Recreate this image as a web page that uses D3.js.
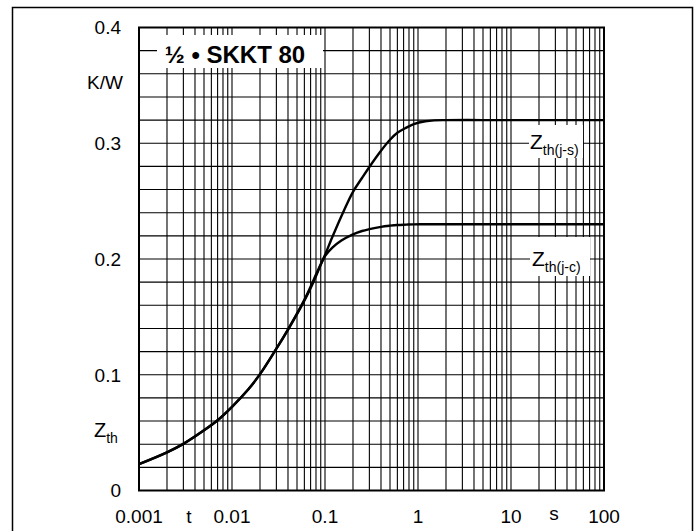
<!DOCTYPE html>
<html>
<head>
<meta charset="utf-8">
<script src="https://cdn.jsdelivr.net/npm/d3@7"></script>
<style>
  html, body { margin: 0; padding: 0; background: #fff; }
  svg { display: block; }
  text { font-family: "Liberation Sans", Arial, Helvetica, sans-serif; fill: #000; }
</style>
</head>
<body>
<svg id="chart" width="697" height="531"></svg>
<script>
// Transient thermal impedance Zth vs. time, half module SKKT 80
const timeS = [0.001, 0.002, 0.003, 0.005, 0.007, 0.01, 0.015, 0.02, 0.03, 0.04, 0.06,
               0.075, 0.09, 0.1, 0.12, 0.15, 0.2, 0.25, 0.3, 0.4, 0.5, 0.6, 0.75, 0.9,
               1.2, 1.5, 2, 5, 10, 100];
// junction to heatsink
const zthJS = [0.0228, 0.033, 0.0403, 0.052, 0.0607, 0.0723, 0.0875, 0.1005, 0.1225, 0.1388, 0.164,
               0.18, 0.195, 0.2035, 0.219, 0.237, 0.258, 0.27, 0.2795, 0.2935, 0.303, 0.309, 0.3135, 0.3165,
               0.319, 0.3198, 0.32, 0.32, 0.32, 0.32];
// junction to case
const zthJC = [0.0228, 0.033, 0.0403, 0.052, 0.0607, 0.0723, 0.0875, 0.1005, 0.1225, 0.1392, 0.1648,
               0.1815, 0.1955, 0.2025, 0.2098, 0.216, 0.2213, 0.2242, 0.2258, 0.2278, 0.2288, 0.2294, 0.2297, 0.2299,
               0.23, 0.23, 0.23, 0.23, 0.23, 0.23];

const xTickValues = [0.001, 0.01, 0.1, 1, 10, 100];
const xTickLabels = ["0.001", "0.01", "0.1", "1", "10", "100"];
const yTickValues = [0, 0.1, 0.2, 0.3, 0.4];
const yTickLabels = ["0", "0.1", "0.2", "0.3", "0.4"];
const title = "½ • SKKT 80";

const svg = d3.select("#chart");
const plot = { left: 139, right: 604, top: 27.5, bottom: 490.5 };

const x = d3.scaleLog().domain([0.001, 100]).range([plot.left, plot.right]);
const y = d3.scaleLinear().domain([0, 0.4]).range([plot.bottom, plot.top]);

// outer frame
svg.append("rect")
  .attr("x", 12.5).attr("y", 7.5).attr("width", 680).attr("height", 620)
  .attr("fill", "none").attr("stroke", "#000").attr("stroke-width", 1.5);

// grid: log minor lines in x, 0.02 steps in y
const xGrid = [];
for (let d = -3; d <= 1; d++) for (let k = 1; k <= 9; k++) xGrid.push(k * Math.pow(10, d));
xGrid.push(100);
const yGrid = d3.range(0, 21).map(i => i * 0.02);

const grid = svg.append("g").attr("stroke", "#000").attr("stroke-width", 1.1);
grid.selectAll("line.v").data(xGrid).join("line").attr("class", "v")
  .attr("x1", d => x(d)).attr("x2", d => x(d))
  .attr("y1", plot.top).attr("y2", plot.bottom);
grid.selectAll("line.h").data(yGrid).join("line").attr("class", "h")
  .attr("x1", plot.left).attr("x2", plot.right)
  .attr("y1", d => y(d)).attr("y2", d => y(d));

// white label boxes over the grid
svg.append("rect").attr("x", 157).attr("y", 35).attr("width", 166).attr("height", 33).attr("fill", "#fff");
svg.append("rect").attr("x", 529).attr("y", 125).attr("width", 54).attr("height", 33).attr("fill", "#fff");
svg.append("rect").attr("x", 530).attr("y", 237).attr("width", 60).attr("height", 39).attr("fill", "#fff");

// plot border
svg.append("rect")
  .attr("x", plot.left).attr("y", plot.top)
  .attr("width", plot.right - plot.left).attr("height", plot.bottom - plot.top)
  .attr("fill", "none").attr("stroke", "#000").attr("stroke-width", 2);

// curves
const line = d3.line().x(d => x(d[0])).y(d => y(d[1])).curve(d3.curveCatmullRom.alpha(0.5));
[zthJS, zthJC].forEach(series => {
  svg.append("path")
    .datum(timeS.map((t, i) => [t, series[i]]))
    .attr("d", line)
    .attr("fill", "none").attr("stroke", "#000").attr("stroke-width", 2.4)
    .attr("stroke-linejoin", "round");
});

// axis labels
const fs = 19;
const yAxis = svg.append("g");
yAxis.selectAll("text").data(yTickValues).join("text")
  .attr("x", 121).attr("y", d => y(d)).attr("dy", "0.36em")
  .attr("text-anchor", "end").attr("font-size", fs)
  .text((d, i) => yTickLabels[i]);
svg.append("text").attr("x", 123).attr("y", 82).attr("dy", "0.36em")
  .attr("text-anchor", "end").attr("font-size", fs).text("K/W");

const zLeft = svg.append("text").attr("x", 94).attr("y", 437).attr("font-size", fs + 1);
zLeft.append("tspan").text("Z");
zLeft.append("tspan").attr("dy", 6).attr("font-size", 14).text("th");

const xAxis = svg.append("g");
xAxis.selectAll("text").data(xTickValues).join("text")
  .attr("x", d => x(d)).attr("y", 523)
  .attr("text-anchor", "middle").attr("font-size", fs)
  .text((d, i) => xTickLabels[i]);
svg.append("text").attr("x", 189).attr("y", 523).attr("text-anchor", "middle").attr("font-size", fs).text("t");
svg.append("text").attr("x", 554).attr("y", 520).attr("text-anchor", "middle").attr("font-size", fs).text("s");

// title
svg.append("text").attr("x", 235).attr("y", 63).attr("text-anchor", "middle")
  .attr("font-size", 24).attr("font-weight", "bold").text(title);

// curve labels
function curveLabel(xPos, yPos, sub) {
  const t = svg.append("text").attr("x", xPos).attr("y", yPos).attr("font-size", 21);
  t.append("tspan").text("Z");
  t.append("tspan").attr("dy", 6).attr("font-size", 14).text(sub);
}
curveLabel(530, 148.5, "th(j-s)");
curveLabel(532, 266, "th(j-c)");
</script>
</body>
</html>
